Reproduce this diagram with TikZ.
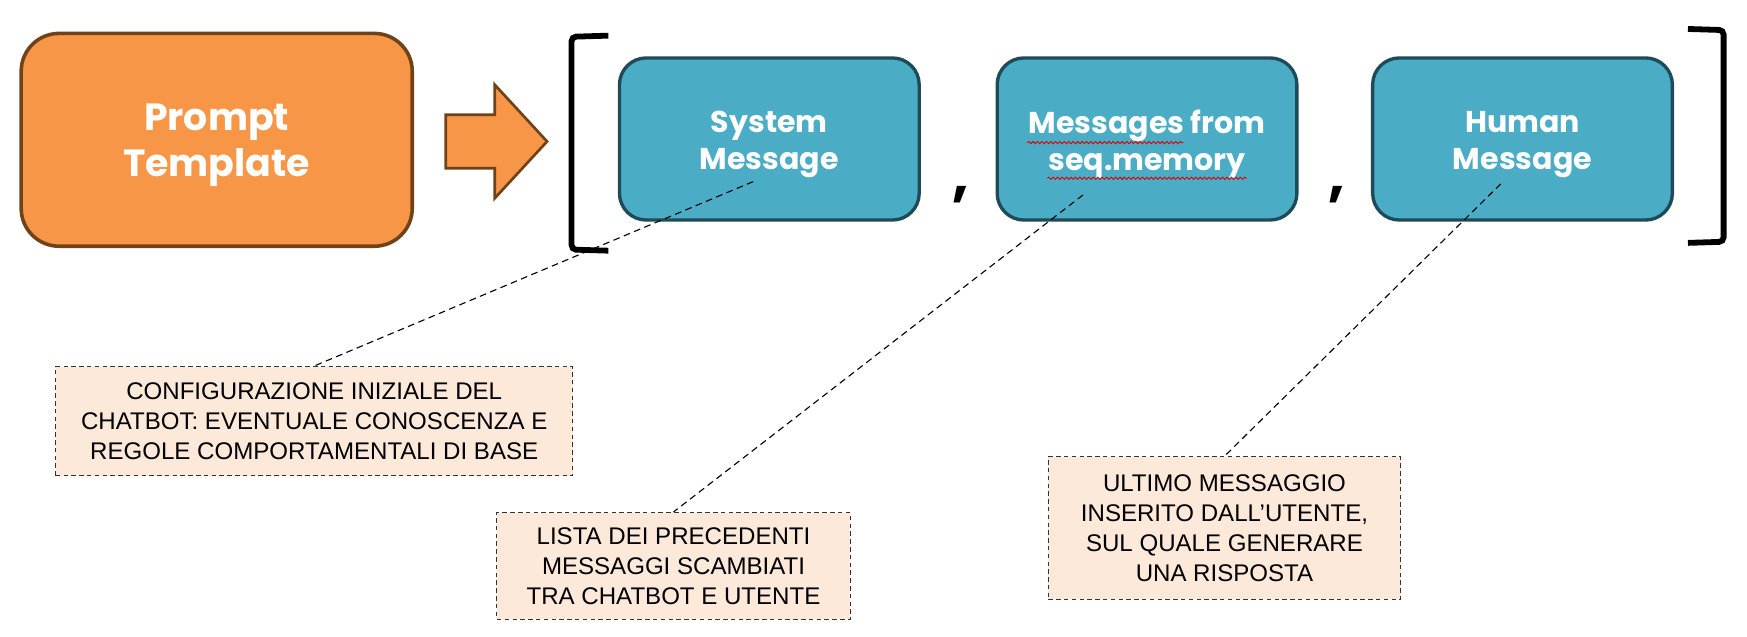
\documentclass[tikz,border=0pt]{standalone}
\usepackage{fontspec}
\setmainfont{Liberation Sans}
\newfontfamily\pop{Poppins}
\usetikzlibrary{decorations.pathmorphing}
\definecolor{orfill}{HTML}{F79646}
\definecolor{ordraw}{HTML}{6F4219}
\definecolor{blfill}{HTML}{4BACC6}
\definecolor{bldraw}{HTML}{1F4B59}
\definecolor{notefill}{HTML}{FCE9DA}
\begin{document}
\begin{tikzpicture}[x=0.5pt,y=-0.5pt,
 titlebox/.style={draw=ordraw, fill=orfill, line width=1.6pt, rounded corners=17pt,
   minimum width=175.5pt, minimum height=95.5pt, inner sep=0pt},
 titletext/.style={text=white, font=\pop\bfseries\fontsize{17}{20.5}\selectfont, align=center, inner sep=0pt},
 msgbox/.style={draw=bldraw, fill=blfill, line width=1.5pt, rounded corners=12pt,
   minimum width=134.5pt, minimum height=72.75pt, inner sep=0pt},
 msgtext/.style={text=white, font=\pop\bfseries\fontsize{13.5}{16.5}\selectfont, align=center, inner sep=0pt},
 note/.style={draw=black!80, dashed, dash pattern=on 2pt off 1.5pt, fill=notefill, line width=0.5pt,
   font=\fontsize{10.8}{13.5}\selectfont, align=center, inner sep=0pt},
 bracketline/.style={line width=2.6pt, rounded corners=2pt},
 leader/.style={line width=0.5pt, dash pattern=on 3pt off 2pt},
 comma/.style={font=\pop\bfseries\fontsize{26}{26}\selectfont, inner sep=0pt},
 squiggle/.style={red!85!black, line width=0.4pt, decorate,
   decoration={snake, amplitude=0.5pt, segment length=2pt}}
]
\useasboundingbox (0,0) rectangle (1568,571);

% title box and arrow
\node[titlebox] (prompt) at (194.5,125.5) {};
\node[titletext] (promptt) at ([yshift=-2.5pt]prompt.center) {Prompt\\Template};
\draw[draw=ordraw, fill=orfill, line width=1.2pt, line join=miter]
  (400,103) -- (444,103) -- (444,76) -- (491,127) -- (444,178) -- (444,151) -- (400,151) -- cycle;

% brackets
\draw[bracketline] (546,32) -- (513,33) -- (513,224) -- (546,225);
\draw[bracketline] (1515,26) -- (1547,27) -- (1547,217) -- (1515,218);

% message boxes
\node[msgbox] (sys) at (690.5,124.75) {};
\node[msgbox] (mem) at (1029.5,124.75) {};
\node[msgbox] (hum) at (1366.5,124.75) {};
\node[msgtext] (syst) at ([yshift=-2.5pt]sys.center) {System\\Message};
\node[msgtext] (memt) at ([yshift=-2.5pt]mem.center) {Messages from\\seq.memory};
\node[msgtext] (humt) at ([yshift=-2.5pt]hum.center) {Human\\Message};

\node[comma] (k1) at (862,175) {,};
\node[comma] (k2) at (1200,175) {,};

% spell-check marks
\draw[squiggle] (922,128) -- (1062,128);
\draw[squiggle] (940,160) -- (1119,160);

% notes
\node[note, minimum width=232pt, minimum height=49pt] (c1) at (282,378)
  {CONFIGURAZIONE INIZIALE DEL\\CHATBOT: EVENTUALE CONOSCENZA E\\REGOLE COMPORTAMENTALI DI BASE};
\node[note, minimum width=158.5pt, minimum height=48pt] (c2) at (604.5,508)
  {LISTA DEI PRECEDENTI\\MESSAGGI SCAMBIATI\\TRA CHATBOT E UTENTE};
\node[note, minimum width=158pt, minimum height=64pt] (c3) at (1099,474)
  {ULTIMO MESSAGGIO\\INSERITO DALL’UTENTE,\\SUL QUALE GENERARE\\UNA RISPOSTA};

% leaders
\coordinate (a1) at (676,163);
\coordinate (a2) at (972,175);
\coordinate (a3) at (1347,165);
\draw[leader] (a1) -- (c1.north);
\draw[leader] (a2) -- (c2.north);
\draw[leader] (a3) -- (c3.north);
\end{tikzpicture}
\end{document}
